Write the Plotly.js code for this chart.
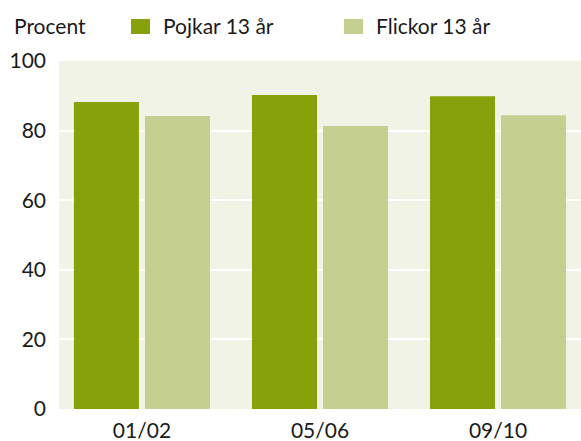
<!DOCTYPE html>
<html>
<head>
<meta charset="utf-8">
<script src="https://cdn.plot.ly/plotly-3.0.1.min.js"></script>
<style>html,body{margin:0;padding:0;background:#fff;}#chart{width:581px;height:441px;}</style>
</head>
<body>
<div id="chart"></div>
<script>
var categories = ["01/02", "05/06", "09/10"];
var seriesNames = ["Pojkar 13 år", "Flickor 13 år"];
var pojkar = [88.2, 90.2, 89.9];
var flickor = [84.2, 81.3, 84.4];
var yTicks = [0, 20, 40, 60, 80, 100];
var yAxisLabel = "Procent";

var colors = ["#86a20b", "#c4cf90"];
var FONT = "Lato, 'Open Sans', sans-serif";

var traces = [
  {type: "bar", x: categories, y: pojkar, name: seriesNames[0], marker: {color: colors[0]}, hoverinfo: "none"},
  {type: "bar", x: categories, y: flickor, name: seriesNames[1], marker: {color: colors[1]}, hoverinfo: "none"}
];

// manual legend in paper coordinates
var sq = [[0.1379, 0.1743], [0.546, 0.5824]];
var shapes = [];
var annotations = [{
  xref: "paper", yref: "paper", x: -0.0905, y: 1.101, xanchor: "left", yanchor: "middle",
  text: yAxisLabel, showarrow: false, font: {family: FONT, size: 21, color: "#1a1a1a"}
}];
for (var i = 0; i < seriesNames.length; i++) {
  shapes.push({type: "rect", xref: "paper", yref: "paper", x0: sq[i][0], x1: sq[i][1], y0: 1.0776, y1: 1.1207,
    fillcolor: colors[i], line: {width: 0}});
  annotations.push({xref: "paper", yref: "paper", x: sq[i][1] + 0.021, y: 1.101, xanchor: "left", yanchor: "middle",
    text: seriesNames[i], showarrow: false, font: {family: FONT, size: 21, color: "#1a1a1a"}});
}

var layout = {
  width: 581, height: 441,
  margin: {l: 59, r: 0, t: 61, b: 32, pad: 0},
  paper_bgcolor: "#ffffff",
  plot_bgcolor: "#f2f3e7",
  showlegend: false,
  barmode: "group",
  bargap: 0.202,
  bargroupgap: 0.0845,
  font: {family: FONT, size: 21, color: "#1a1a1a"},
  xaxis: {
    type: "category", range: [-0.466, 2.466], showgrid: false, zeroline: false, showline: false,
    ticks: "", ticklabelstandoff: 7, tickfont: {family: FONT, size: 21, color: "#1a1a1a"}, fixedrange: true
  },
  yaxis: {
    range: [0, 100], tickvals: yTicks, ticktext: yTicks.map(String), showgrid: true, gridcolor: "#ffffff", gridwidth: 2,
    zeroline: false, showline: false, ticks: "", ticklabelstandoff: 12,
    tickfont: {family: FONT, size: 21, color: "#1a1a1a"}, fixedrange: true
  },
  shapes: shapes,
  annotations: annotations
};

Plotly.newPlot("chart", traces, layout, {displayModeBar: false, staticPlot: true});
</script>
</body>
</html>
